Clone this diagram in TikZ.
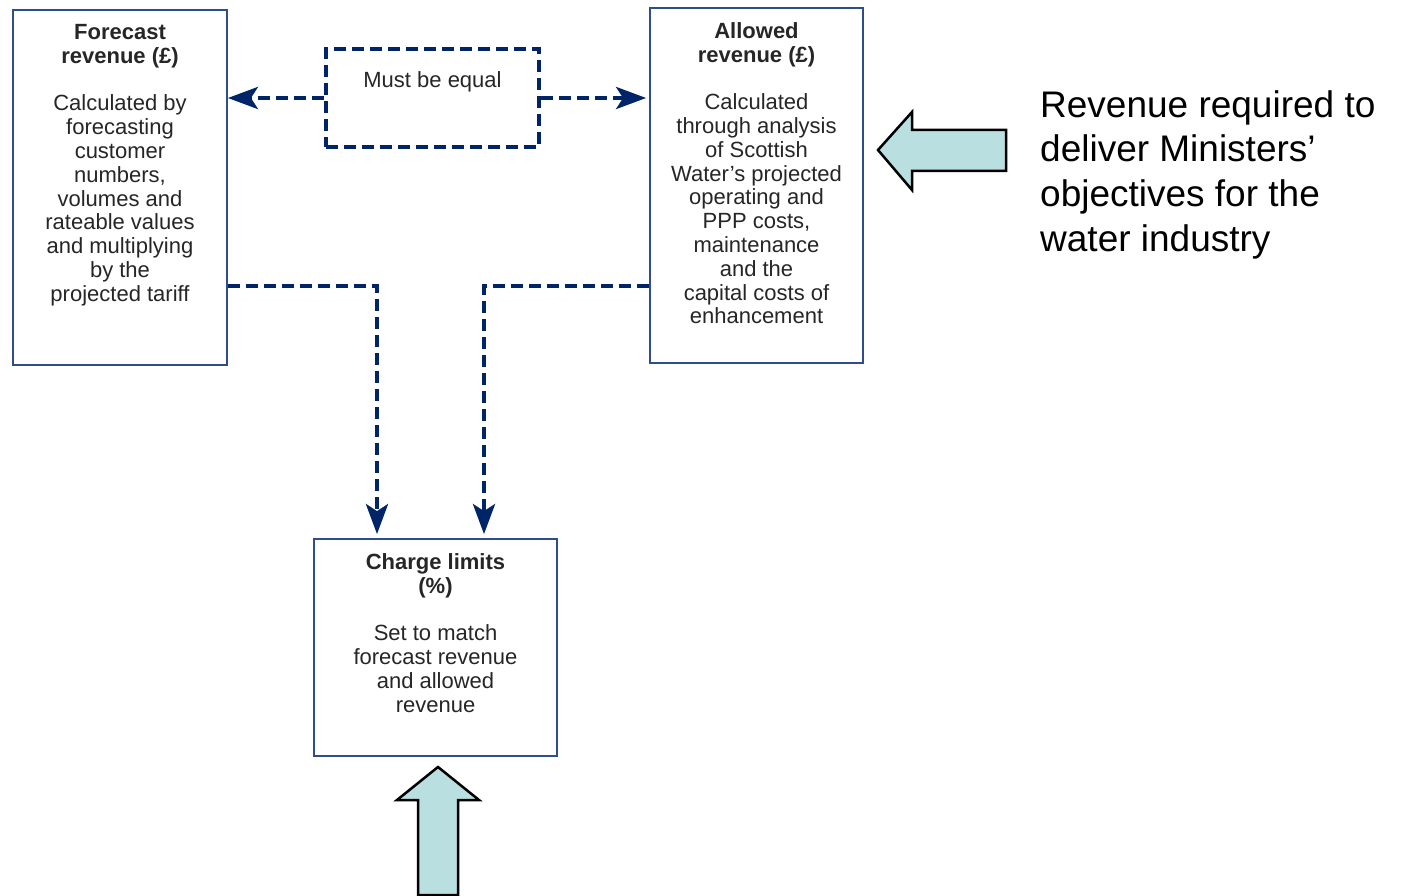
\documentclass[tikz,border=0pt]{standalone}
\usepackage{fontspec}
\setmainfont{Liberation Sans}
\usetikzlibrary{arrows.meta,positioning}
\definecolor{ink}{HTML}{262626}
\definecolor{boxline}{HTML}{2F4C8C}
\definecolor{navy}{HTML}{002468}
\definecolor{pushfill}{HTML}{B9DFE1}
\newcommand{\boxfont}{\fontsize{22}{23.8}\selectfont}
\tikzset{
 every node/.append style={font=\boxfont,text=ink,align=center},
 box/.style={draw=boxline,line width=1.8pt,fill=white,inner sep=0pt},
 words/.style={inner sep=0pt},
 equalbox/.style={draw=navy,line width=4pt,dash pattern=on 12pt off 6pt,inner sep=0pt},
 link/.style={draw=navy,line width=4pt,dash pattern=on 12pt off 6pt,
   -{Stealth[length=30pt,width=22pt,inset=7pt]}},
 push/.style={draw=black,line width=2.5pt,fill=pushfill,miter limit=10},
 note/.style={font=\fontsize{37}{44.7}\selectfont,text=black,align=left,inner sep=0pt},
}

\begin{document}
\begin{tikzpicture}[x=1pt,y=-1pt]
\useasboundingbox (0,0) rectangle (1401,896);

% the three boxes and the dashed one between them
\node[box,minimum width=214pt,minimum height=355pt] (fc) at (120,187.5) {};
\node[box,minimum width=213pt,minimum height=355pt] (al) at (756.5,185.5) {};
\node[box,minimum width=243pt,minimum height=217pt] (cl) at (435.5,647.5) {};
\node[equalbox,minimum width=213pt,minimum height=98pt] (eq) at (432.5,98) {};

\node[words,below=15pt of fc.north] (fctext)
  {\textbf{Forecast}\\\textbf{revenue (£)}\\[23.8pt]
   Calculated by\\forecasting\\customer\\numbers,\\volumes and\\rateable values\\
   and multiplying\\by the\\projected tariff};
\node[words,below=15pt of al.north] (altext)
  {\textbf{Allowed}\\\textbf{revenue (£)}\\[23.8pt]
   Calculated\\through analysis\\of Scottish\\Water’s projected\\operating and\\
   PPP costs,\\maintenance\\and the\\capital costs of\\enhancement};
\node[words,below=15pt of cl.north] (cltext)
  {\textbf{Charge limits}\\\textbf{(\%)}\\[23.8pt]
   Set to match\\forecast revenue\\and allowed\\revenue};
\node[words,below=24pt of eq.north] (eqtext) {Must be equal};

% dashed links
\draw[link] (eq.west) -- (fc.east |- eq.west);
\draw[link,shorten >=3pt] (eq.east) -- (al.west |- eq.east);
\draw[link,shorten >=4pt] ([yshift=-98.5pt]fc.east) -| ([xshift=-58.5pt]cl.north);
\draw[link,shorten >=4pt] ([yshift=-100.5pt]al.west) -| ([xshift=48.5pt]cl.north);

% block arrows
\draw[push] (878,150) -- (912,112) -- (912,130) -- (1006,130) -- (1006,171)
  -- (912,171) -- (912,190) -- cycle;
\draw[push] (438,767) -- (479,800) -- (458,800) -- (458,895) -- (418,895)
  -- (418,800) -- (397,800) -- cycle;

\node[note,anchor=north west] (goal) at (1040,90)
  {Revenue required to\\deliver Ministers’\\objectives for the\\water industry};
\end{tikzpicture}
\end{document}
